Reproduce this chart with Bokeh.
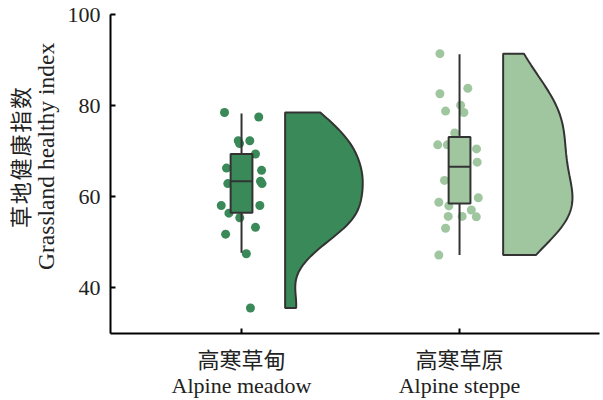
import numpy as np
from bokeh.plotting import figure
from bokeh.models import Range1d, FixedTicker, LinearAxis
from bokeh.embed import file_html
from bokeh.resources import INLINE

# ---- data ----
categories = ["高寒草甸\nAlpine meadow", "高寒草原\nAlpine steppe"]
cat_pos = [1, 2]

meadow_values = [78.5, 77.5, 72.3, 72.3, 71.7, 69.4, 66.3, 65.8, 62.9, 63.4, 62.9,
                 58.1, 58.1, 56.4, 55.4, 53.3, 51.8, 47.5, 35.6]
meadow_jitter = [-0.078, 0.079, -0.015, 0.038, -0.009, 0.064, -0.069, 0.092, -0.063, 0.087, 0.094,
                 -0.093, 0.084, -0.058, -0.008, 0.064, -0.073, 0.022, 0.041]

steppe_values = [91.4, 82.6, 83.8, 78.8, 80.1, 78.5, 74.0, 71.4, 71.4, 70.5, 67.6,
                 63.6, 58.8, 58.0, 59.8, 57.1, 55.7, 55.7, 55.6, 53.1, 47.2]
steppe_jitter = [-0.090, -0.090, 0.038, -0.064, 0.005, 0.020, -0.022, -0.100, -0.056, 0.078, 0.081,
                 -0.069, -0.095, -0.049, 0.086, 0.054, -0.052, 0.012, 0.077, -0.064, -0.095]

box_q1 = [56.5, 58.5]
box_median = [63.4, 66.6]
box_q3 = [69.4, 73.1]
whisker_low = [47.7, 47.2]
whisker_high = [78.3, 91.3]

y_ticks = [40, 60, 80, 100]
y_label_en = "Grassland healthy index"
y_label_zh = "草\u200a地\u200a健\u200a康\u200a指\u200a数"
pad = "\u00a0" * 6  # shifts the rotated labels upward like the reference

# ---- styles ----
fills = ["#3a8958", "#a0c6a0"]
edge = "#333333"
FONT = "Liberation Serif, Noto Sans CJK SC"
violin_offset = 0.2
violin_max_w = [0.356, 0.318]
bandwidths = [4.6, 7.5]

p = figure(width=603, height=400, output_backend="svg", toolbar_location=None,
           x_range=Range1d(0.399, 2.642), y_range=Range1d(30, 100),
           min_border_left=110, min_border_top=14, min_border_right=4, min_border_bottom=65)
p.grid.visible = False
p.outline_line_color = None

groups = [(meadow_values, meadow_jitter), (steppe_values, steppe_jitter)]
for i, (vals, jit) in enumerate(groups):
    c = cat_pos[i]
    fill = fills[i]
    xs = [c + j for j in jit]
    p.scatter(xs, vals, size=9, fill_color=fill, line_color=None)
    p.segment(x0=[c, c], y0=[whisker_low[i], box_q3[i]], x1=[c, c], y1=[box_q1[i], whisker_high[i]],
              line_color=edge, line_width=2)
    p.vbar(x=[c], width=0.1, bottom=[box_q1[i]], top=[box_q3[i]], fill_color=fill,
           line_color=edge, line_width=2)
    p.segment(x0=[c - 0.05], x1=[c + 0.05], y0=[box_median[i]], y1=[box_median[i]],
              line_color=edge, line_width=2)
    v = np.array(vals)
    grid = np.linspace(v.min(), v.max(), 200)
    bw = bandwidths[i]
    dens = np.exp(-0.5 * ((grid[:, None] - v[None, :]) / bw) ** 2).sum(axis=1)
    w = dens / dens.max() * violin_max_w[i]
    x0 = c + violin_offset
    px = [x0] + list(x0 + w) + [x0]
    py = [grid[0]] + list(grid) + [grid[-1]]
    p.patch(px, py, fill_color=fill, line_color=edge, line_width=2)

# second (outer) left axis carrying only the Chinese label line
zh_axis = LinearAxis(axis_label=pad + y_label_zh, axis_line_color=None,
                     ticker=FixedTicker(ticks=[]),
                     major_tick_line_color=None, minor_tick_line_color=None,
                     major_tick_in=0, major_tick_out=0, major_label_standoff=0)
p.add_layout(zh_axis, "left")

p.xaxis.ticker = FixedTicker(ticks=cat_pos)
p.xaxis.major_label_overrides = {cat_pos[k]: categories[k] for k in range(2)}
p.yaxis[0].ticker = FixedTicker(ticks=y_ticks)
p.yaxis[0].axis_label = pad + y_label_en
for ax in [p.xaxis[0], p.yaxis[0]]:
    ax.axis_line_width = 2
    ax.axis_line_color = "black"
    ax.major_tick_line_width = 2
    ax.major_tick_line_color = "black"
    ax.major_tick_in = 5
    ax.major_tick_out = 0
    ax.minor_tick_line_color = None
    ax.major_label_text_font = FONT
    ax.major_label_text_color = "#222222"
for ax in [p.yaxis[0], zh_axis]:
    ax.axis_label_text_font = FONT
    ax.axis_label_text_font_style = "normal"
    ax.axis_label_text_color = "#222222"
p.yaxis[0].axis_label_text_font_size = "23.5px"
zh_axis.axis_label_text_font_size = "22px"
p.yaxis[0].major_label_text_font_size = "22px"
p.xaxis[0].major_label_text_font_size = "22px"
p.xaxis[0].major_label_text_line_height = 1.0
p.yaxis[0].major_label_standoff = 10
p.xaxis[0].major_label_standoff = 14
p.yaxis[0].axis_label_standoff = 6
zh_axis.axis_label_standoff = -4

open("out.html", "w").write(file_html(p, INLINE))
